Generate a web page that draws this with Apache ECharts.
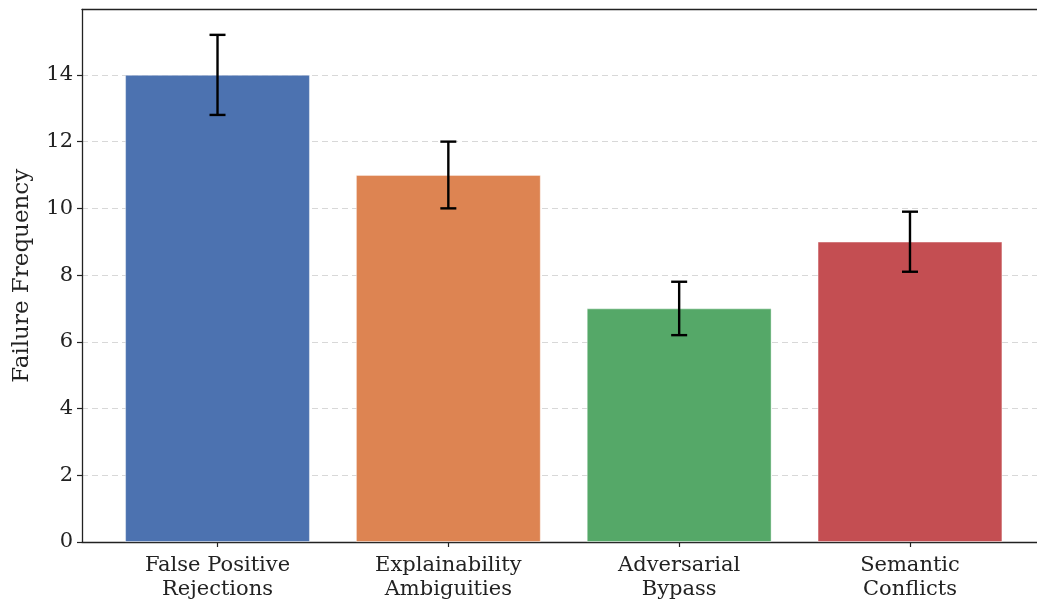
<!DOCTYPE html>
<html>
<head>
<meta charset="utf-8">
<script src="https://cdn.jsdelivr.net/npm/echarts@6/dist/echarts.min.js"></script>
<style>html,body{margin:0;padding:0;background:#fff}#c{width:1037px;height:604px}</style>
</head>
<body>
<div id="c"></div>
<script>
const categories = ['False Positive\nRejections', 'Explainability\nAmbiguities', 'Adversarial\nBypass', 'Semantic\nConflicts'];
const values = [14, 11, 7, 9];
const errors = [1.2, 1.0, 0.8, 0.9];
const colors = ['#4c72b0', '#dd8452', '#55a868', '#c44e52'];
const yTicks = [0, 2, 4, 6, 8, 10, 12, 14];

const FONT = 'DejaVu Serif';
const Y_MAX = 15.96;
const errData = values.map((v, i) => [i, v - errors[i], v + errors[i]]);

const chart = echarts.init(document.getElementById('c'), null, {renderer: 'canvas'});
chart.setOption({
  animation: false,
  backgroundColor: '#fff',
  grid: [
    {left: 82, right: -10, top: 9.5, bottom: 62},
    {left: 102.1, width: 923.3, top: 9.5, bottom: 62}
  ],
  xAxis: [
    {type: 'value', gridIndex: 0, min: -0.59, max: 3.59, position: 'bottom',
     axisLine: {show: true, onZero: false, lineStyle: {color: '#222', width: 1.3}},
     axisTick: {show: false}, axisLabel: {show: false}, splitLine: {show: false}},
    {type: 'category', gridIndex: 1, data: categories, boundaryGap: true,
     axisLine: {show: false},
     axisTick: {show: true, alignWithLabel: true, length: 5, lineStyle: {color: '#222', width: 1.2}},
     axisLabel: {fontFamily: FONT, fontSize: 21, color: '#222', margin: 12, lineHeight: 24, interval: 0}},
    {type: 'value', gridIndex: 0, min: -0.59, max: 3.59, position: 'top',
     axisLine: {show: true, onZero: false, lineStyle: {color: '#222', width: 1.3}},
     axisTick: {show: false}, axisLabel: {show: false}, splitLine: {show: false}}
  ],
  yAxis: [
    {type: 'value', gridIndex: 0, min: 0, max: Y_MAX,
     name: 'Failure Frequency', nameLocation: 'middle', nameGap: 48,
     nameTextStyle: {fontFamily: FONT, fontSize: 23, color: '#222'},
     axisLine: {show: true, onZero: false, lineStyle: {color: '#222', width: 1.3}},
     axisTick: {show: true, length: 5, customValues: yTicks, lineStyle: {color: '#222', width: 1.2}},
     axisLabel: {fontFamily: FONT, fontSize: 21, color: '#222', margin: 9, customValues: yTicks},
     splitLine: {show: true, lineStyle: {color: '#d8d8d8', type: [6, 4], width: 1}}},
    {type: 'value', gridIndex: 1, min: 0, max: Y_MAX, show: false, splitLine: {show: false}}
  ],
  series: [
    {type: 'bar', xAxisIndex: 1, yAxisIndex: 1, barWidth: '80%',
     data: values.map((v, i) => ({value: v, itemStyle: {color: colors[i], borderColor: 'rgba(255,255,255,0.5)', borderWidth: 0.8}})),
     z: 3},
    {type: 'custom', xAxisIndex: 1, yAxisIndex: 1, data: errData, z: 5,
     renderItem: function (params, api) {
       const lo = api.coord([api.value(0), api.value(1)]);
       const hi = api.coord([api.value(0), api.value(2)]);
       const hw = 8;
       const st = {stroke: '#000', lineWidth: 2.4};
       return {type: 'group', children: [
         {type: 'line', shape: {x1: lo[0], y1: lo[1], x2: hi[0], y2: hi[1]}, style: st},
         {type: 'line', shape: {x1: lo[0] - hw, y1: lo[1], x2: lo[0] + hw, y2: lo[1]}, style: st},
         {type: 'line', shape: {x1: hi[0] - hw, y1: hi[1], x2: hi[0] + hw, y2: hi[1]}, style: st}
       ]};
     }}
  ]
});
</script>
</body>
</html>
